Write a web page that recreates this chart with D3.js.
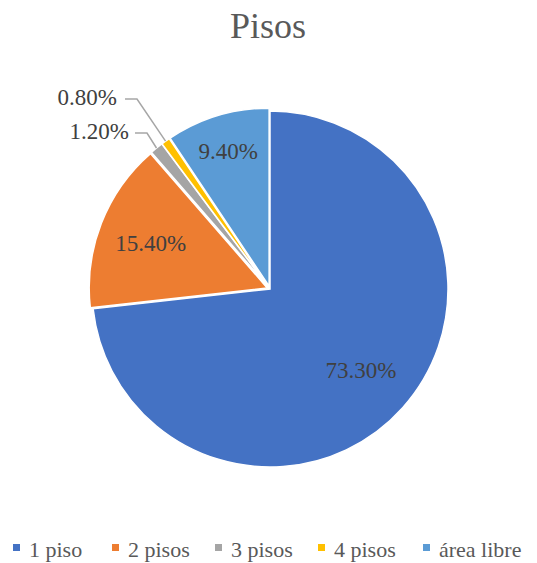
<!doctype html>
<html>
<head>
<script src="https://d3js.org/d3.v7.min.js"></script>
</head>
<body style="margin:0">
<svg id="chart" width="537" height="563"></svg>
<script>
// data
var categories = ["1 piso", "2 pisos", "3 pisos", "4 pisos", "área libre"];
var values = [73.3, 15.4, 1.2, 0.8, 9.4];
var labels = ["73.30%", "15.40%", "1.20%", "0.80%", "9.40%"];
var colors = ["#4472C4", "#ED7D31", "#A5A5A5", "#FFC000", "#5B9BD5"];

var svg = d3.select("#chart"),
    cx = 270, cy = 289,
    R = 178,
    explode = 3;

function serif(sel, size) {
  return sel.attr("style", "font-family: 'Times New Roman', Tinos, 'Liberation Serif', FreeSerif, serif; font-size: " + size + "px");
}

// title
serif(svg.append("text"), 36)
  .attr("x", 268).attr("y", 38)
  .attr("text-anchor", "middle")
  .attr("fill", "#595959")
  .text("Pisos");

var pie = d3.pie().sort(null).value(function(d) { return d; });
var arcs = pie(values);
var arc = d3.arc().innerRadius(0).outerRadius(R);

function mid(d) { return (d.startAngle + d.endAngle) / 2; }
function off(d, r) {
  var a = mid(d);
  return [Math.sin(a) * r, -Math.cos(a) * r];
}

var g = svg.append("g").attr("transform", "translate(" + cx + "," + cy + ")");

g.selectAll("path")
  .data(arcs)
  .enter().append("path")
  .attr("d", arc)
  .attr("transform", function(d, i) {
    var o = off(d, i === 0 ? 0 : explode);
    return "translate(" + o[0] + "," + o[1] + ")";
  })
  .attr("fill", function(d, i) { return colors[i]; })
  .attr("stroke", "#fff")
  .attr("stroke-width", 1.5);

// inside labels
var inside = [0, 1, 4];
var labelR = [122, 128, 144];
inside.forEach(function(i, k) {
  var o = off(arcs[i], labelR[k]);
  serif(g.append("text"), 23)
    .attr("x", o[0]).attr("y", o[1] + 8)
    .attr("text-anchor", "middle")
    .attr("fill", "#404040")
    .text(labels[i]);
});

// outside labels with leader lines
var outside = [
  { i: 2, lx: 129, ly: 139, ex: 147, ey: 133, hx: 135 },
  { i: 3, lx: 117, ly: 105, ex: 137, ey: 99, hx: 125 }
];
outside.forEach(function(p) {
  var o = off(arcs[p.i], R + explode);
  svg.append("polyline")
    .attr("points", [[cx + o[0], cy + o[1]], [p.ex, p.ey], [p.hx, p.ey]].map(function(q) { return q.join(","); }).join(" "))
    .attr("fill", "none")
    .attr("stroke", "#A6A6A6")
    .attr("stroke-width", 1.5);
  serif(svg.append("text"), 23)
    .attr("x", p.lx).attr("y", p.ly)
    .attr("text-anchor", "end")
    .attr("fill", "#404040")
    .text(labels[p.i]);
});

// legend
var legendX = [13, 112, 215, 318, 423];
var leg = svg.append("g");
categories.forEach(function(c, i) {
  leg.append("rect")
    .attr("x", legendX[i]).attr("y", 544)
    .attr("width", 7).attr("height", 7)
    .attr("fill", colors[i]);
  serif(leg.append("text"), 22)
    .attr("x", legendX[i] + 16).attr("y", 557)
    .attr("fill", "#595959")
    .text(c);
});
</script>
</body>
</html>
